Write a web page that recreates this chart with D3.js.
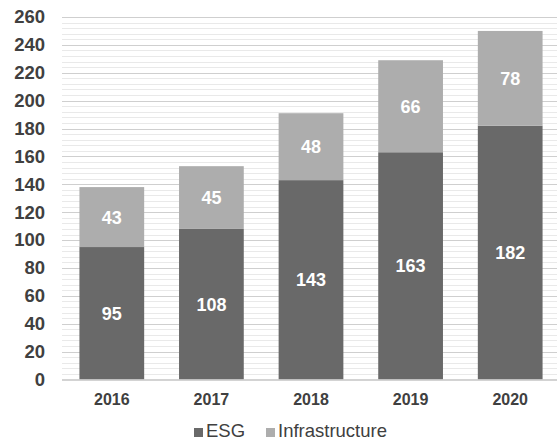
<!DOCTYPE html>
<html>
<head>
<meta charset="utf-8">
<script src="https://cdn.jsdelivr.net/npm/d3@7"></script>
<style>
	body { margin: 0; background: #fff; }
	svg { display: block; font-family: "Liberation Sans", Arial, sans-serif; }
	.ylab, .xlab { fill: #404040; font-weight: bold; }
	.val { fill: #fff; font-weight: bold; }
	.legend-label { fill: #404040; }
</style>
</head>
<body>
<svg width="557" height="442"></svg>
<script>
// chart data
const years = ["2016", "2017", "2018", "2019", "2020"];
const esg = [95, 108, 143, 163, 182];
const infra = [43, 45, 48, 66, 68];          // heights as drawn
const infraLabels = ["43", "45", "48", "66", "78"]; // numbers printed on the bars
const yTicks = [0, 20, 40, 60, 80, 100, 120, 140, 160, 180, 200, 220, 240, 260];
const seriesNames = ["ESG", "Infrastructure"];

const colors = ["#696969", "#adadad"];

const svg = d3.select("svg");

const x = d3.scaleBand()
	.domain(years)
	.range([62, 560])
	.paddingInner(0.35)
	.paddingOuter(0.175);

const y = d3.scaleLinear()
	.domain([0, 260])
	.range([379.5, 17]);

// minor grid every 4
const grid = svg.append("g").attr("class", "grid");
grid.selectAll(".minor")
	.data(d3.range(4, 260, 4).filter(function(d) { return d % 20 !== 0; }))
	.enter().append("line")
	.attr("x1", 62).attr("x2", 557)
	.attr("y1", function(d) { return Math.round(y(d)) + 0.5; })
	.attr("y2", function(d) { return Math.round(y(d)) + 0.5; })
	.attr("stroke", "#e9e9e9");

grid.selectAll(".major")
	.data(yTicks.slice(1))
	.enter().append("line")
	.attr("x1", 62).attr("x2", 557)
	.attr("y1", function(d) { return Math.round(y(d)) + 0.5; })
	.attr("y2", function(d) { return Math.round(y(d)) + 0.5; })
	.attr("stroke", "#cfcfcf");

// y labels
const yAxis = d3.axisLeft(y).tickValues(yTicks).tickSize(0).tickPadding(0);
svg.append("g")
	.attr("transform", "translate(45,0)")
	.call(yAxis)
	.call(function(g) { g.select(".domain").remove(); })
	.selectAll("text")
	.attr("class", "ylab")
	.attr("font-size", 18.5)
	.attr("font-family", null);

// stacked bars
const stacked = years.map(function(yr, i) {
	return [
		{ series: 0, y0: 0, y1: esg[i], label: String(esg[i]), year: yr },
		{ series: 1, y0: esg[i], y1: esg[i] + infra[i], label: infraLabels[i], year: yr }
	];
}).flat();

svg.append("g").selectAll("rect")
	.data(stacked)
	.enter().append("rect")
	.attr("x", function(d) { return x(d.year); })
	.attr("width", x.bandwidth())
	.attr("y", function(d) { return y(d.y1); })
	.attr("height", function(d) { return y(d.y0) - y(d.y1); })
	.attr("fill", function(d) { return colors[d.series]; });

svg.append("g").selectAll("text")
	.data(stacked)
	.enter().append("text")
	.attr("class", "val")
	.attr("x", function(d) { return x(d.year) + x.bandwidth() / 2; })
	.attr("y", function(d) { return (y(d.y0) + y(d.y1)) / 2; })
	.attr("dy", "0.36em")
	.attr("text-anchor", "middle")
	.attr("font-size", 18)
	.text(function(d) { return d.label; });

// baseline
svg.append("line")
	.attr("x1", 62).attr("x2", 557)
	.attr("y1", 380).attr("y2", 380)
	.attr("stroke", "#c4c4c4")
	.attr("stroke-width", 1.5);

// x labels
const xAxis = d3.axisBottom(x).tickSize(0).tickPadding(0);
svg.append("g")
	.attr("transform", "translate(0,405)")
	.call(xAxis)
	.call(function(g) { g.select(".domain").remove(); })
	.selectAll("text")
	.attr("class", "xlab")
	.attr("dy", 0)
	.attr("font-size", 16)
	.attr("font-family", null);

// legend
const legendX = [194, 266];
const legend = svg.append("g").attr("class", "legend");
legend.selectAll("rect")
	.data(seriesNames)
	.enter().append("rect")
	.attr("x", function(d, i) { return legendX[i]; })
	.attr("y", 428)
	.attr("width", 9)
	.attr("height", 9)
	.attr("fill", function(d, i) { return colors[i]; });

legend.selectAll("text")
	.data(seriesNames)
	.enter().append("text")
	.attr("class", "legend-label")
	.attr("x", function(d, i) { return legendX[i] + 12; })
	.attr("y", 437)
	.attr("font-size", 18.5)
	.text(function(d) { return d; });
</script>
</body>
</html>
